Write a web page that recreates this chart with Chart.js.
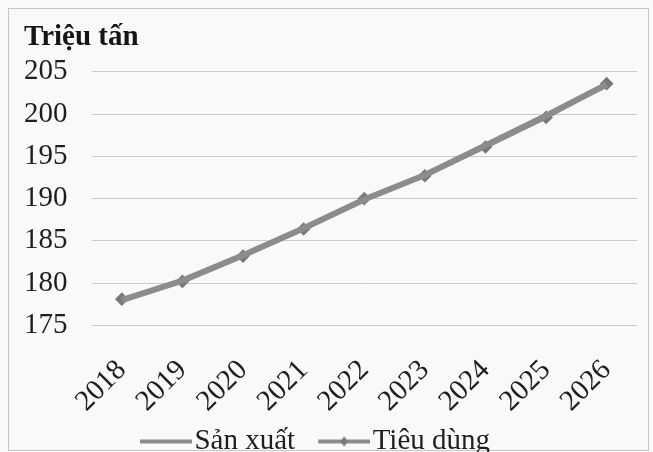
<!DOCTYPE html>
<html lang="vi">
<head>
<meta charset="utf-8">
<title>Sản xuất và tiêu dùng</title>
<script src="https://cdn.jsdelivr.net/npm/chart.js@4/dist/chart.umd.min.js"></script>
<style>
  html, body { margin: 0; padding: 0; background: #f8fafa; font-family: 'Liberation Serif', serif; }
  #wrap { width: 653px; height: 452px; position: relative; }
  canvas { display: block; }
</style>
</head>
<body>
<div id="wrap"><canvas id="chartSxTd" width="653" height="452"></canvas></div>
<script>
// Số liệu (triệu tấn)
const years = ['2018', '2019', '2020', '2021', '2022', '2023', '2024', '2025', '2026'];
const sanXuat = [178.0, 180.3, 183.3, 186.5, 189.9, 192.8, 196.3, 199.8, 203.5];
const tieuDung = [178.1, 180.2, 183.2, 186.4, 190.0, 192.7, 196.1, 199.6, 203.6];
const yTicks = [175, 180, 185, 190, 195, 200, 205];

const FONT = 'Liberation Serif';
const LINE_COLOR = '#8b8d8d';
const MARK_COLOR = '#76787a';

// mẫu đường trong chú giải: khoảng trống bên trái + đoạn thẳng 52px
function legendSample(withMarker) {
    const c = document.createElement('canvas');
    c.width = 83; c.height = 12;
    const g = c.getContext('2d');
    g.strokeStyle = LINE_COLOR;
    g.lineWidth = 4;
    g.beginPath();
    g.moveTo(31, 6); g.lineTo(83, 6);
    g.stroke();
    if (withMarker) {
        g.fillStyle = MARK_COLOR;
        g.beginPath();
        g.moveTo(57, 1); g.lineTo(61, 6); g.lineTo(57, 11); g.lineTo(53, 6);
        g.closePath();
        g.fill();
    }
    return c;
}

// nền, khung viền và dời chú giải sang trái một chút
const framePlugin = {
    id: 'frame',
    afterLayout(chart) {
        chart.legend.left -= 25;
        chart.legend.right -= 25;
    },
    beforeDraw(chart) {
        const ctx = chart.ctx;
        ctx.save();
        ctx.fillStyle = '#f8fafa';
        ctx.fillRect(0, 0, chart.width, chart.height);
        ctx.strokeStyle = '#c3c7c7';
        ctx.lineWidth = 1;
        ctx.strokeRect(8.5, 8.5, 640, 442);
        ctx.restore();
    }
};

function drawChart() {
    const samples = [legendSample(false), legendSample(true)];
    new Chart(document.getElementById('chartSxTd'), {
        type: 'line',
        data: {
            labels: years,
            datasets: [
                {
                    label: 'Sản xuất',
                    data: sanXuat,
                    borderColor: LINE_COLOR,
                    borderWidth: 6,
                    pointRadius: 0,
                    tension: 0,
                    fill: false
                },
                {
                    label: 'Tiêu dùng',
                    data: tieuDung,
                    borderColor: LINE_COLOR,
                    borderWidth: 4,
                    pointStyle: 'rectRot',
                    pointRadius: 4,
                    pointBackgroundColor: MARK_COLOR,
                    pointBorderColor: MARK_COLOR,
                    tension: 0,
                    fill: false
                }
            ]
        },
        options: {
            responsive: false,
            animation: false,
            devicePixelRatio: 1,
            layout: { padding: { left: 24, right: 16, top: 14, bottom: -14 } },
            scales: {
                x: {
                    offset: true,
                    grid: { display: false, drawTicks: false },
                    border: { display: false },
                    ticks: {
                        minRotation: 45,
                        maxRotation: 45,
                        padding: 28,
                        color: '#1e1e1e',
                        font: { family: FONT, size: 29 }
                    },
                    // nhãn xoay chiếm ít chỗ hơn ước tính, cho phép tràn sang trái
                    afterFit(scale) {
                        scale.height -= 24;
                        scale.paddingLeft = 0;
                        scale.paddingRight = 0;
                    }
                },
                y: {
                    min: 175,
                    max: 205,
                    afterBuildTicks(axis) {
                        axis.ticks = yTicks.map(v => ({ value: v }));
                    },
                    // bỏ phần khoảng đệm thừa bên trái nhãn
                    afterFit(scale) {
                        scale.width -= 24;
                    },
                    grid: { color: '#c9cbcb', lineWidth: 1, drawTicks: false },
                    border: { display: false },
                    ticks: {
                        autoSkip: false,
                        padding: 24,
                        color: '#1e1e1e',
                        font: { family: FONT, size: 29 }
                    }
                }
            },
            plugins: {
                title: {
                    display: true,
                    text: 'Triệu tấn',
                    align: 'start',
                    color: '#151515',
                    font: { family: FONT, size: 29, weight: 'bold' },
                    padding: { top: 6, bottom: 17 }
                },
                legend: {
                    position: 'bottom',
                    labels: {
                        usePointStyle: true,
                        pointStyleWidth: 59,
                        padding: 4,
                        color: '#1e1e1e',
                        font: { family: FONT, size: 29, lineHeight: 1.0 },
                        generateLabels(chart) {
                            const items = Chart.defaults.plugins.legend.labels.generateLabels(chart);
                            items.forEach((it, i) => { it.pointStyle = samples[i]; });
                            return items;
                        }
                    }
                },
                tooltip: { enabled: false }
            }
        },
        plugins: [framePlugin]
    });
}

// chờ phông chữ sẵn sàng rồi mới vẽ
Promise.all([
    document.fonts.load('29px "Liberation Serif"'),
    document.fonts.load('bold 29px "Liberation Serif"')
]).then(drawChart, drawChart);
</script>
</body>
</html>
